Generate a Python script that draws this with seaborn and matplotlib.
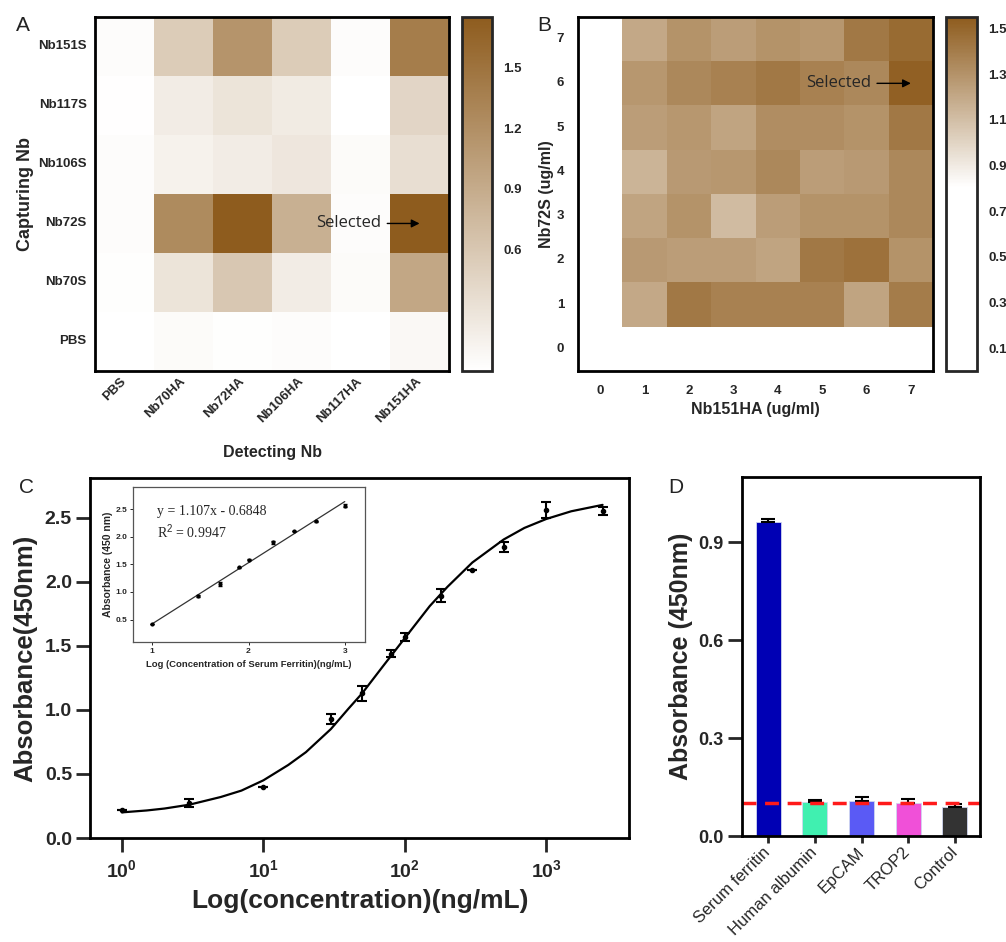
import numpy as np
import pandas as pd
import seaborn as sns
import matplotlib.pyplot as plt
from matplotlib.colors import LinearSegmentedColormap

# ---------------- data ----------------
# A: capture / detection pair screening (OD450)
capture_nb = ["Nb151S", "Nb117S", "Nb106S", "Nb72S", "Nb70S", "PBS"]
detect_nb = ["PBS", "Nb70HA", "Nb72HA", "Nb106HA", "Nb117HA", "Nb151HA"]
pair_od = [
    [0.03, 0.55, 1.15, 0.55, 0.04, 1.40],
    [0.01, 0.20, 0.30, 0.22, 0.00, 0.45],
    [0.04, 0.15, 0.20, 0.27, 0.05, 0.35],
    [0.03, 1.25, 1.75, 0.85, 0.03, 1.75],
    [0.02, 0.30, 0.60, 0.20, 0.05, 0.95],
    [0.00, 0.05, 0.02, 0.03, 0.00, 0.08],
]
cbar_ticks_a = [0.6, 0.9, 1.2, 1.5]

# B: checkerboard titration (rows Nb72S 7..0, cols Nb151HA 0..7)
nb72_levels = [7, 6, 5, 4, 3, 2, 1, 0]
nb151_levels = [0, 1, 2, 3, 4, 5, 6, 7]
checker_od = [
    [0.08, 1.20, 1.30, 1.25, 1.30, 1.28, 1.42, 1.48],
    [0.08, 1.28, 1.35, 1.38, 1.42, 1.38, 1.35, 1.53],
    [0.08, 1.25, 1.28, 1.22, 1.32, 1.32, 1.30, 1.42],
    [0.08, 1.15, 1.27, 1.28, 1.35, 1.25, 1.27, 1.35],
    [0.08, 1.22, 1.30, 1.12, 1.25, 1.30, 1.30, 1.35],
    [0.08, 1.27, 1.25, 1.25, 1.22, 1.42, 1.45, 1.30],
    [0.08, 1.20, 1.42, 1.38, 1.38, 1.38, 1.22, 1.40],
    [0.08, 0.08, 0.08, 0.08, 0.08, 0.08, 0.08, 0.08],
]
cbar_ticks_b = [0.1, 0.3, 0.5, 0.7, 0.9, 1.1, 1.3, 1.5]

# C: standard curve
conc = [1, 3, 10, 30, 50, 80, 100, 180, 300, 500, 1000, 2500]
absorb = [0.22, 0.275, 0.40, 0.93, 1.13, 1.44, 1.57, 1.89, 2.09, 2.27, 2.56, 2.55]
absorb_err = [0.0, 0.03, 0.0, 0.04, 0.06, 0.03, 0.03, 0.05, 0.0, 0.04, 0.06, 0.03]
fit_conc = [1, 1.5, 2, 3, 5, 7, 10, 15, 20, 30, 40, 50, 70, 100, 150, 200, 300,
            500, 700, 1000, 1500, 2500]
fit_abs = [0.20, 0.215, 0.23, 0.26, 0.32, 0.37, 0.45, 0.57, 0.67, 0.85, 1.01, 1.13,
           1.34, 1.56, 1.81, 1.96, 2.15, 2.33, 2.42, 2.49, 2.55, 2.60]
inset_log = [1.0, 1.477, 1.699, 1.903, 2.0, 2.255, 2.477, 2.699, 3.0]
inset_abs = [0.42, 0.93, 1.14, 1.45, 1.58, 1.90, 2.10, 2.28, 2.56]
inset_err = [0.0, 0.02, 0.04, 0.01, 0.01, 0.03, 0.0, 0.01, 0.03]
slope, intercept, r2 = 1.107, -0.6848, 0.9947

# D: specificity
proteins = ["Serum ferritin", "Human albumin", "EpCAM", "TROP2", "Control"]
od_d = [0.962, 0.103, 0.107, 0.102, 0.090]
od_d_err = [0.008, 0.007, 0.014, 0.010, 0.009]
bar_colors = ["#0000B4", "#40F0B0", "#5A5AF5", "#F050D8", "#333333"]
cutoff = 0.1

# ---------------- style ----------------
sns.set_style("white")
plt.rcParams['font.family'] = ['Liberation Sans', 'DejaVu Sans']
plt.rcParams['mathtext.fontset'] = 'custom'
plt.rcParams['mathtext.bf'] = 'Liberation Sans:bold'
plt.rcParams['mathtext.rm'] = 'Liberation Sans'

brown = "#8E5C1E"
cmap_a = LinearSegmentedColormap.from_list("wb", ["white", brown])
cmap_b = LinearSegmentedColormap.from_list("wb2", [(0, "white"), (0.52, "white"), (1, brown)])

fig = plt.figure(figsize=(10.06, 9.42), dpi=100)


def box(ax, lw=2):
    for s in ax.spines.values():
        s.set_visible(True)
        s.set_linewidth(lw)
        s.set_color("black")


def style_cbar(ax, cax):
    cb = ax.collections[0].colorbar
    cb.outline.set_linewidth(2)
    cax.tick_params(direction='in', left=True, right=True, length=4, width=1.5, pad=8,
                    labelsize=9.5)
    for t in cax.get_yticklabels():
        t.set_fontweight('bold')


# ---- A ----
axA = fig.add_axes([0.0944, 0.6062, 0.352, 0.3758])
caxA = fig.add_axes([0.4592, 0.6062, 0.0298, 0.3758])
dfA = pd.DataFrame(pair_od, index=capture_nb, columns=detect_nb)
sns.heatmap(dfA, ax=axA, cbar_ax=caxA, cmap=cmap_a, vmin=0, vmax=1.75,
            cbar_kws={'ticks': cbar_ticks_a})
box(axA)
axA.tick_params(length=0, pad=6)
axA.set_yticklabels(axA.get_yticklabels(), rotation=0, fontweight='bold', fontsize=9.5)
axA.set_xticklabels(axA.get_xticklabels(), rotation=45, ha='right', va='center',
                    rotation_mode='anchor', fontweight='bold', fontsize=9.5)
axA.set_ylabel("Capturing Nb", fontsize=13, fontweight='bold', labelpad=3)
axA.set_xlabel("Detecting Nb", fontsize=11.5, fontweight='bold', labelpad=14)
axA.annotate("Selected", xy=(5.5, 3.5), xytext=(4.85, 3.5), ha='right', va='center',
             fontsize=12, family='Open Sans',
             arrowprops=dict(arrowstyle='-|>', color='black', lw=1, mutation_scale=12,
                             shrinkA=2, shrinkB=0))
style_cbar(axA, caxA)

# ---- B ----
axB = fig.add_axes([0.5746, 0.6062, 0.3529, 0.3758])
caxB = fig.add_axes([0.9404, 0.6062, 0.0308, 0.3758])
dfB = pd.DataFrame(checker_od, index=nb72_levels, columns=nb151_levels)
sns.heatmap(dfB, ax=axB, cbar_ax=caxB, cmap=cmap_b, vmin=0, vmax=1.55,
            cbar_kws={'ticks': cbar_ticks_b})
box(axB)
axB.tick_params(length=0, pad=10)
axB.set_yticklabels(axB.get_yticklabels(), rotation=0, fontweight='bold', fontsize=9.5)
axB.set_xticklabels(axB.get_xticklabels(), rotation=0, fontweight='bold', fontsize=9.5)
axB.set_ylabel("Nb72S (ug/ml)", fontsize=11.5, fontweight='bold', labelpad=2)
axB.set_xlabel("Nb151HA (ug/ml)", fontsize=11.5, fontweight='bold', labelpad=4)
axB.annotate("Selected", xy=(7.5, 1.5), xytext=(6.6, 1.5), ha='right', va='center',
             fontsize=12, family='Open Sans',
             arrowprops=dict(arrowstyle='-|>', color='black', lw=1, mutation_scale=12,
                             shrinkA=2, shrinkB=0))
style_cbar(axB, caxB)

# ---- C ----
axC = fig.add_axes([0.0895, 0.1104, 0.5358, 0.3822])
sns.lineplot(x=fit_conc, y=fit_abs, ax=axC, color='black', lw=1.6)
axC.errorbar(conc, absorb, yerr=absorb_err, fmt='o', ms=3, color='black',
             capsize=3.5, elinewidth=1.5, capthick=1.5)
axC.set_xscale('log')
axC.set_xlim(10 ** -0.225, 10 ** 3.585)
axC.set_ylim(0, 2.81)
box(axC)
axC.set_xticks([1, 10, 100, 1000])
axC.set_xticklabels([r'$\mathbf{10^{%d}}$' % i for i in range(4)])
axC.minorticks_off()
axC.set_yticks([0.0, 0.5, 1.0, 1.5, 2.0, 2.5])
axC.set_yticklabels(["%.1f" % v for v in [0.0, 0.5, 1.0, 1.5, 2.0, 2.5]])
axC.tick_params(direction='out', length=10, width=2, labelsize=14, left=True, bottom=True)
axC.tick_params(axis='y', pad=3)
axC.tick_params(axis='x', pad=5)
for t in axC.get_xticklabels() + axC.get_yticklabels():
    t.set_fontweight('bold')
axC.set_ylabel("Absorbance(450nm)", fontsize=18.5, fontweight='bold', labelpad=5)
axC.set_xlabel("Log(concentration)(ng/mL)", fontsize=19, fontweight='bold', labelpad=6)

# inset
axI = fig.add_axes([0.1322, 0.3185, 0.2306, 0.1645])
xs = [min(inset_log), max(inset_log)]
sns.lineplot(x=xs, y=[slope * x + intercept for x in xs], ax=axI, color='#333333', lw=0.9)
axI.errorbar(inset_log, inset_abs, yerr=inset_err, fmt='o', ms=2, color='black',
             capsize=1.2, elinewidth=0.8)
axI.set_xlim(0.8, 3.21)
axI.set_ylim(0.093, 2.9)
axI.set_xticks([1, 2, 3])
axI.set_yticks([0.5, 1.0, 1.5, 2.0, 2.5])
for s in axI.spines.values():
    s.set_linewidth(0.9)
    s.set_color('#555555')
axI.tick_params(direction='out', length=2.5, width=0.7, labelsize=6, pad=1.5,
                left=True, bottom=True)
for t in axI.get_xticklabels() + axI.get_yticklabels():
    t.set_fontweight('bold')
axI.set_ylabel("Absorbance (450 nm)", fontsize=7.5, fontweight='bold', labelpad=2)
axI.set_xlabel("Log (Concentration of Serum Ferritin)(ng/mL)", fontsize=6.8,
               fontweight='bold', labelpad=4)
axI.text(1.046, 2.456, "y = %.3fx - %.4f" % (slope, -intercept), fontsize=10,
         family='Liberation Serif', va='center')
axI.text(1.046, 2.09, r"R$^2$ = %.4f" % r2, fontsize=10, family='Liberation Serif',
         va='center')

# ---- D ----
axD = fig.add_axes([0.7376, 0.1125, 0.2366, 0.3811])
sns.barplot(x=proteins, y=od_d, hue=proteins, palette=bar_colors, legend=False,
            ax=axD, width=0.54, saturation=1, edgecolor='#cfd6f0', linewidth=0.6)
axD.errorbar(range(len(proteins)), od_d, yerr=[[0] * len(od_d), od_d_err], fmt='none',
             ecolor='black', capsize=5, elinewidth=1.5, capthick=1.5)
axD.axhline(cutoff, color='#ff1a1a', lw=2.5, ls=(0, (4, 2.5)))
axD.set_xlim(-0.56, 4.54)
axD.set_ylim(0, 1.1)
axD.set_yticks([0.0, 0.3, 0.6, 0.9])
box(axD)
axD.tick_params(direction='out', width=2, left=True, bottom=True)
axD.tick_params(axis='y', length=10, pad=3)
axD.tick_params(axis='x', length=5, pad=5)
axD.set_yticklabels(["0.0", "0.3", "0.6", "0.9"], fontsize=13, fontweight='bold')
axD.set_xticks(range(len(proteins)))
axD.set_xticklabels(proteins, rotation=45, ha='right', va='center',
                    rotation_mode='anchor', fontsize=12)
axD.set_ylabel("Absorbance (450nm)", fontsize=18, fontweight='bold', labelpad=4)

# panel letters
for lab, x, y in [("A", 0.023, 0.973), ("B", 0.541, 0.973), ("C", 0.026, 0.483),
                  ("D", 0.672, 0.483)]:
    fig.text(x, y, lab, fontsize=15, ha='center', va='center', color='#222222')

fig.savefig("out.png", dpi=100)
